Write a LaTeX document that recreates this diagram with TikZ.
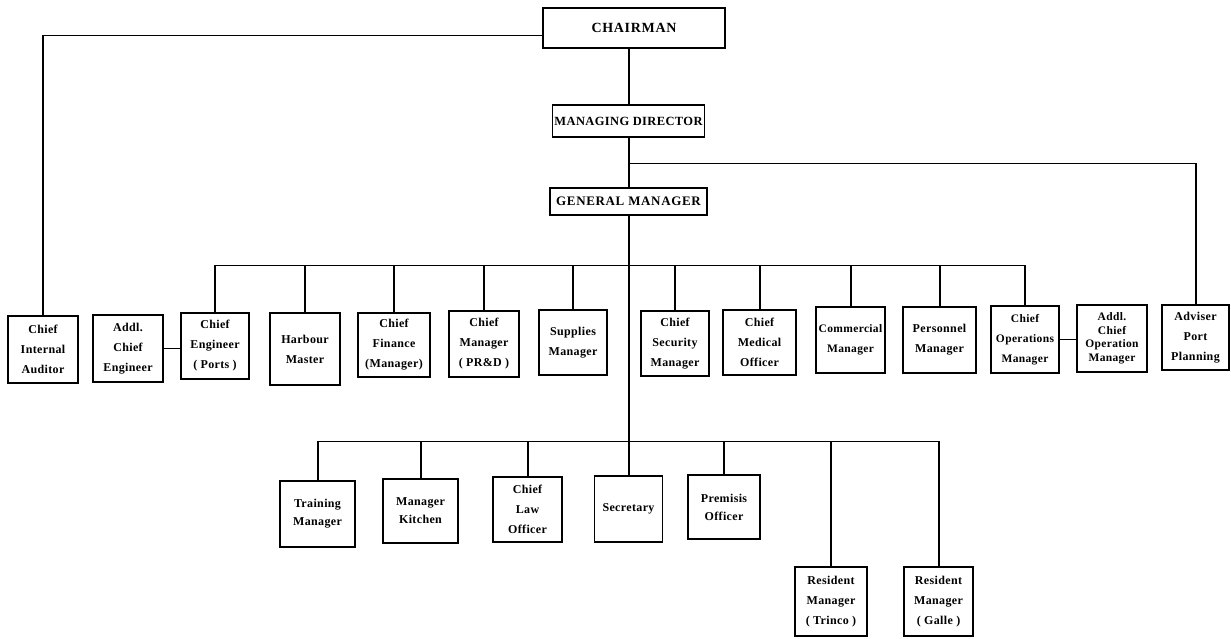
\documentclass[tikz,border=0pt]{standalone}
\usepackage{fontspec}
\setmainfont{Liberation Serif}
\newfontfamily\bx[LetterSpace=3]{Liberation Serif}
\newfontfamily\tx[LetterSpace=5]{Liberation Serif}
\begin{document}
\begin{tikzpicture}[x=1pt,y=-1pt,
  box/.style={draw, line width=1.2pt, align=center, inner sep=0pt,
    font=\bx\bfseries\fontsize{12}{20}\selectfont},
  title/.style={box, font=\tx\bfseries\fontsize{13}{15}\selectfont},
  hline/.style={line width=1pt},
  vline/.style={line width=2pt}]
\useasboundingbox[fill=white] (0,0) rectangle (1231,638);

% top chain
\node[title, minimum width=182, minimum height=40, font=\tx\bfseries\fontsize{14}{16}\selectfont] (chair) at (634,28) {CHAIRMAN};
\node[title, minimum width=152, minimum height=32, font=\bx\bfseries\fontsize{12.5}{15}\selectfont] (md) at (628.5,121) {MANAGING DIRECTOR};
\node[title, minimum width=157, minimum height=27] (gm) at (628.5,201.5) {GENERAL MANAGER};

% row 1
\node[box, minimum width=70, minimum height=67] (cia) at (43,349.5) {Chief\\Internal\\Auditor};
\node[box, minimum width=70, minimum height=67] (ace) at (128,348.5) {Addl.\\Chief\\Engineer};
\node[box, minimum width=68, minimum height=66] (ce) at (215,346) {Chief\\Engineer\\( Ports )};
\node[box, minimum width=70, minimum height=72] (hm) at (305,349) {Harbour\\Master};
\node[box, minimum width=72, minimum height=64] (cf) at (394,345) {Chief\\Finance\\(Manager)};
\node[box, minimum width=70, minimum height=66] (cm) at (484,344) {Chief\\Manager\\( PR\&D )};
\node[box, minimum width=68, minimum height=65] (sm) at (573,342.5) {Supplies\\Manager};
\node[box, minimum width=68, minimum height=65] (cs) at (675,343.5) {Chief\\Security\\Manager};
\node[box, minimum width=73, minimum height=65] (cmo) at (759.5,342.5) {Chief\\Medical\\Officer};
\node[box, minimum width=69, minimum height=66, font=\bx\bfseries\fontsize{11.5}{20}\selectfont] (com) at (850.5,340) {Commercial\\Manager};
\node[box, minimum width=73, minimum height=66] (pm) at (939.5,340) {Personnel\\Manager};
\node[box, minimum width=68, minimum height=67, font=\bx\bfseries\fontsize{11.5}{20}\selectfont] (co) at (1025,339.5) {Chief\\Operations\\Manager};
\node[box, minimum width=70, minimum height=67, font=\bx\bfseries\fontsize{11.5}{13.5}\selectfont] (aco) at (1112,338.5) {Addl.\\Chief\\Operation\\Manager};
\node[box, minimum width=67, minimum height=65] (adv) at (1195.5,337.5) {Adviser\\Port\\Planning};

% row 2
\node[box, minimum width=75, minimum height=66, font=\bx\bfseries\fontsize{12}{18}\selectfont] (tm) at (317.5,514) {Training\\Manager};
\node[box, minimum width=75, minimum height=64, font=\bx\bfseries\fontsize{12}{18}\selectfont] (mk) at (420.5,511) {Manager\\Kitchen};
\node[box, minimum width=69, minimum height=65] (clo) at (527.5,509.5) {Chief\\Law\\Officer};
\node[box, minimum width=68, minimum height=66] (sec) at (628.5,509) {Secretary};
\node[box, minimum width=72, minimum height=64, font=\bx\bfseries\fontsize{12}{18}\selectfont] (po) at (724,507) {Premisis\\Officer};

% row 3
\node[box, minimum width=72, minimum height=69] (rt) at (831,601.5) {Resident\\Manager\\( Trinco )};
\node[box, minimum width=69, minimum height=69] (rg) at (938.5,601.5) {Resident\\Manager\\( Galle )};

% bus coordinates
\coordinate (c0) at (43,35);
\coordinate (b3) at (628.5,163);
\coordinate (b1) at (628.5,265);
\coordinate (b2) at (628.5,441);

% chairman to internal auditor
\draw[hline] ([yshift=-7pt]chair.west) -- (c0);
\draw[vline] (c0) -- (cia.north);

% main spine
\draw[vline] (md.north) -- (md.north |- chair.south);
\draw[vline] (gm.north) -- (gm.north |- md.south);
\draw[vline] (gm.south) -- (sec.north);

% adviser branch
\draw[hline] (b3) -| (adv.north);
\draw[vline] (adv.north) -- (adv.north |- b3);

% row 1 bus
\draw[hline] (ce.north |- b1) -- (co.north |- b1);
\foreach \n in {ce,hm,cf,cm,sm,cs,cmo,com,pm,co}
  \draw[vline] (\n.north) -- (\n.north |- b1);

% row 2 bus
\draw[hline] (tm.north |- b2) -- (rg.north |- b2);
\foreach \n in {tm,mk,clo,po,rt,rg}
  \draw[vline] (\n.north) -- (\n.north |- b2);

% lateral links
\draw[hline] (ace.east) -- (ace.east -| ce.west);
\draw[hline] (co.east) -- (co.east -| aco.west);
\end{tikzpicture}
\end{document}
